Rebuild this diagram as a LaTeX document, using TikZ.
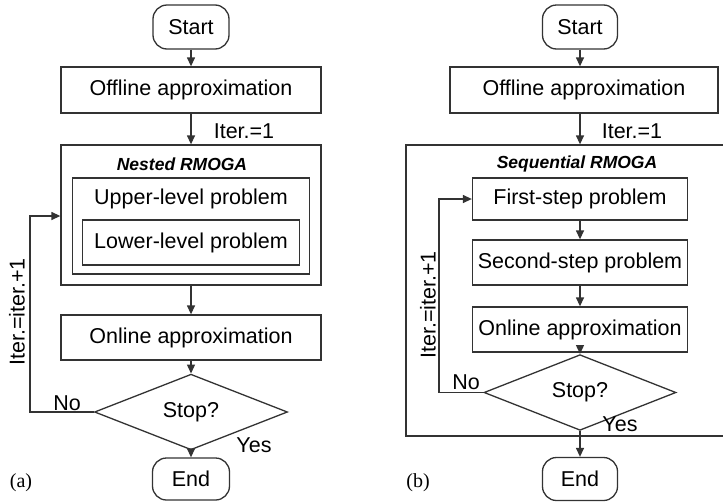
\documentclass[tikz,border=0pt]{standalone}
\usepackage{fontspec}
\setmainfont{Liberation Sans}
\newfontfamily\capfont{Liberation Serif}
\usetikzlibrary{shapes.geometric,arrows.meta}
\tikzset{
  ln/.style={draw=black!80, line width=1.3pt},
  box/.style={ln, rectangle, inner sep=0pt, font=\fontsize{21.5}{23}\selectfont},
  term/.style={box, rounded corners=14pt},
  test/.style={ln, diamond, inner sep=0pt, font=\fontsize{21.5}{23}\selectfont},
  txt/.style={inner sep=0pt, font=\fontsize{21.5}{23}\selectfont},
  ttl/.style={inner sep=0pt, font=\fontsize{17.5}{19}\selectfont\bfseries\itshape},
  flow/.style={ln, -{Triangle[length=9pt,width=8pt]}},
}
\begin{document}
\begin{tikzpicture}[x=1pt,y=-1pt]
\clip (0,0) rectangle (723,501);
\fill[white] (0,0) rectangle (723,501);

% ---------- (a) nested scheme ----------
\node[term, minimum width=76pt, minimum height=44pt] (startA) at (191,27) {Start};
\node[box, minimum width=260pt, minimum height=46pt] (offA) at (191,90) {Offline approximation};
\node[box, minimum width=260pt, minimum height=140pt] (nestA) at (191,215) {};
\node[ttl] (nestT) at (182,164) {Nested RMOGA};
\node[box, minimum width=237pt, minimum height=96pt] (upA) at (191,226) {};
\node[txt] (upT) at (191,199) {Upper-level problem};
\node[box, minimum width=217pt, minimum height=45pt] (lowA) at (191,242.5) {Lower-level problem};
\node[box, minimum width=260pt, minimum height=45pt] (onA) at (191,337.5) {Online approximation};
\node[test, minimum width=193pt, minimum height=41pt] (stopA) at (191,412) {Stop?};
\node[term, minimum width=77pt, minimum height=42pt] (endA) at (191,479) {End};

\draw[flow] (startA) -- (offA);
\draw[flow] (offA) -- (nestA);
\draw[flow] (nestA) -- (onA);
\draw[flow] (onA) -- (stopA);
\draw[flow] (stopA) -- (endA);
\coordinate (fbA) at (30,216);
\draw[flow] (stopA.west) -| (fbA) -- (nestA.west |- fbA);

\node[txt] (it1A) at (244,131) {Iter.=1};
\node[txt] (noA) at (67,403) {No};
\node[txt] (yesA) at (254,445) {Yes};
\node[txt, rotate=90] (itnA) at (17,312) {Iter.=iter.+1};
\node[inner sep=0pt, font=\capfont\fontsize{20}{22}\selectfont] (capA) at (21,483) {(a)};

% ---------- (b) sequential scheme ----------
\node[term, minimum width=75pt, minimum height=44pt] (startB) at (580,27) {Start};
\node[box, minimum width=268pt, minimum height=46pt] (offB) at (584,90) {Offline approximation};
\node[box, minimum width=330pt, minimum height=291pt] (seqB) at (571,290.5) {};
\node[ttl] (seqT) at (577,164) {Sequential RMOGA};
\node[box, minimum width=215pt, minimum height=42pt] (firstB) at (580,199) {First-step problem};
\node[box, minimum width=215pt, minimum height=45pt] (secB) at (580,262.5) {Second-step problem};
\node[box, minimum width=215pt, minimum height=45pt] (onB) at (580,329.5) {Online approximation};
\node[test, minimum width=192pt, minimum height=41pt] (stopB) at (580,392.5) {Stop?};
\node[term, minimum width=75pt, minimum height=43pt] (endB) at (580,479) {End};

\draw[flow] (startB) -- (startB |- offB.north);
\draw[flow] (startB |- offB.south) -- (startB |- seqB.north);
\draw[flow] (firstB) -- (secB);
\draw[flow] (secB) -- (onB);
\draw[flow] (onB) -- (stopB);
\draw[flow] (stopB) -- (endB);
\coordinate (fbB) at (439,199);
\draw[flow] (stopB.west) -| (fbB) -- (firstB.west);

\node[txt] (it1B) at (632,131) {Iter.=1};
\node[txt] (noB) at (466,382) {No};
\node[txt] (yesB) at (620,424) {Yes};
\node[txt, rotate=90] (itnB) at (428,305) {Iter.=iter.+1};
\node[inner sep=0pt, font=\capfont\fontsize{20}{22}\selectfont] (capB) at (418,483) {(b)};
\end{tikzpicture}
\end{document}
